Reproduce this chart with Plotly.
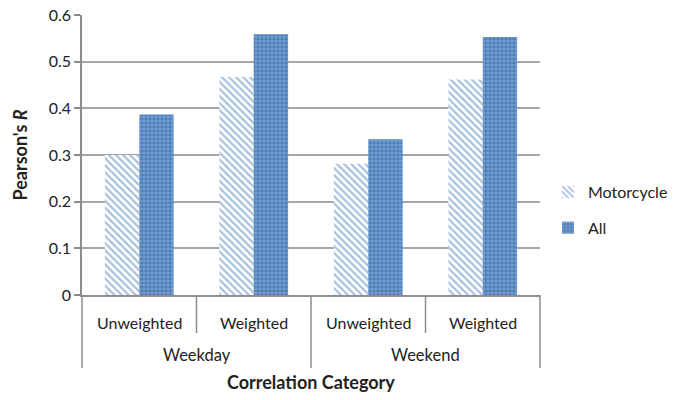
import plotly.graph_objects as go

# Category levels and correlation values
day_type = ["Weekday", "Weekday", "Weekend", "Weekend"]
weighting = ["Unweighted", "Weighted", "Unweighted", "Weighted"]
motorcycle_r = [0.30, 0.467, 0.281, 0.462]
all_r = [0.387, 0.559, 0.334, 0.553]
y_ticks = [0, 0.1, 0.2, 0.3, 0.4, 0.5, 0.6]
y_tick_text = ["0", "0.1", "0.2", "0.3", "0.4", "0.5", "0.6"]

FONT = "Lato, 'Open Sans', sans-serif"
BLUE = "#4a7ebb"
AXIS_GRAY = "#8c8c8c"
TEXT = "#222"

# plot area in pixels
W, H = 682, 400
L, R, T, B = 82, 142, 15, 105
PH = H - T - B


def py(pixel_y):
    """Pixel row below the plot -> paper y coordinate."""
    return -(pixel_y - (H - B)) / PH


fig = go.Figure()
fig.add_trace(go.Bar(
    name="Motorcycle",
    x=[day_type, weighting],
    y=motorcycle_r,
    legendgroup="m",
    marker=dict(
        color="white",
        line=dict(width=0),
        pattern=dict(shape="\\", fgcolor="#4f81bd", bgcolor="white",
                     size=5, solidity=0.45),
    ),
))
fig.add_trace(go.Bar(
    name="All",
    x=[day_type, weighting],
    y=all_r,
    legendgroup="a",
    marker=dict(
        color=BLUE,
        line=dict(width=0),
        pattern=dict(shape="+", fgcolor="white", bgcolor=BLUE,
                     size=4, solidity=0.25),
    ),
))

# two-level category labels drawn under the axis, with box dividers
n = len(weighting)
shapes = []
annotations = []
for i in range(n + 1):
    xp = i / n
    outer_edge = i % 2 == 0
    shapes.append(dict(type="line", xref="paper", yref="paper",
                       x0=xp, x1=xp, y0=0, y1=py(368 if outer_edge else 333),
                       line=dict(color=AXIS_GRAY, width=1.5)))
for i, lab in enumerate(weighting):
    annotations.append(dict(text=lab, xref="paper", yref="paper",
                            x=(i + 0.5) / n, y=py(322), showarrow=False,
                            xanchor="center", yanchor="middle",
                            font=dict(size=16, color=TEXT)))
for j in range(0, n, 2):
    annotations.append(dict(text=day_type[j], xref="paper", yref="paper",
                            x=(j + 1) / n, y=py(355), showarrow=False,
                            xanchor="center", yanchor="middle",
                            font=dict(size=16.5, color=TEXT)))
annotations.append(dict(text="<b>Correlation Category</b>", xref="paper", yref="paper",
                        x=0.5, y=py(382), showarrow=False,
                        xanchor="center", yanchor="middle",
                        font=dict(size=18, color=TEXT)))

fig.update_layout(
    width=W, height=H,
    margin=dict(l=L, r=R, t=T, b=B, autoexpand=False),
    paper_bgcolor="white", plot_bgcolor="white",
    font=dict(family=FONT, size=15, color=TEXT),
    barmode="group", bargap=0.4, bargroupgap=0,
    showlegend=True,
    legend=dict(xref="container", x=548 / W, y=py(210), xanchor="left", yanchor="middle",
                traceorder="grouped", tracegroupgap=12, itemwidth=30,
                font=dict(size=16, color=TEXT)),
    shapes=shapes,
    annotations=annotations,
    xaxis=dict(
        type="multicategory", automargin=False,
        showticklabels=False, showdividers=False,
        showline=True, linecolor=AXIS_GRAY, linewidth=1.5,
    ),
    yaxis=dict(
        automargin=False,
        range=[0, 0.6], tickvals=y_ticks, ticktext=y_tick_text,
        showgrid=True, gridcolor="#a6a6a6", gridwidth=1.5,
        showline=True, linecolor=AXIS_GRAY, linewidth=1.5,
        ticks="outside", ticklen=6, tickcolor=AXIS_GRAY, tickwidth=1.5,
        tickfont=dict(size=16, color=TEXT),
        zeroline=False,
        title=dict(text="<b>Pearson's <i>R</i></b>", font=dict(size=18), standoff=16),
    ),
)

fig.write_html("out.html")
